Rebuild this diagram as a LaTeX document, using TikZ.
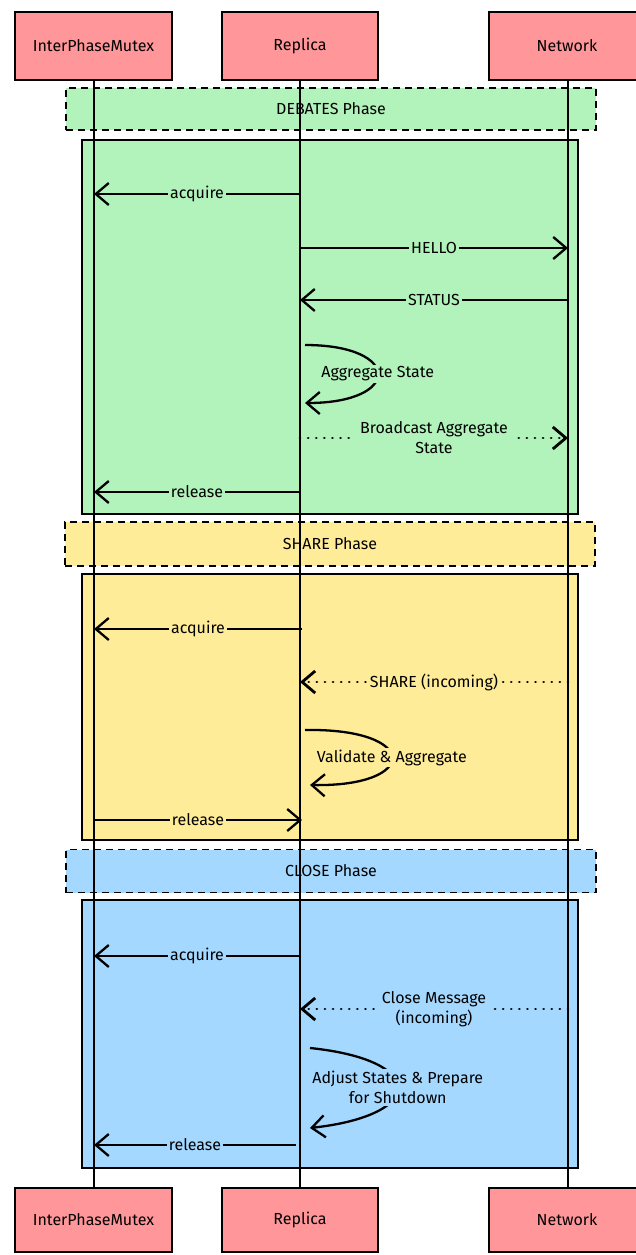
\documentclass[tikz,border=0pt]{standalone}
\usepackage{fontspec}
\setmainfont{Fira Sans}
\usetikzlibrary{arrows.meta}

\definecolor{actorred}{RGB}{255,150,153}
\definecolor{debgreen}{RGB}{178,242,187}
\definecolor{shareyellow}{RGB}{255,236,153}
\definecolor{closeblue}{RGB}{165,216,255}
\newcommand{\seqfont}{\fontsize{16}{20}\selectfont}

\begin{document}
\begin{tikzpicture}[x=1pt,y=-1pt,
	>={Straight Barb[length=13pt,width=22pt]},
	actor/.style={draw,line width=1.8pt,fill=actorred,font=\seqfont,inner sep=0pt},
	phasebar/.style={draw,dashed,dash pattern=on 7pt off 5pt,line width=1.6pt,minimum width=530pt,minimum height=42pt,font=\seqfont},
	groupbox/.style={draw,line width=1.8pt,minimum width=496pt,inner sep=0pt},
	lifeline/.style={line width=1.4pt},
	msg/.style={->,line width=2.3pt},
	dotmsg/.style={->,line width=2.8pt,line cap=round,dash pattern=on 0.1pt off 8pt},
	msglabel/.style={font=\seqfont,inner sep=2pt,align=center}]

	\useasboundingbox (0,0) rectangle (636,1255);
	\fill[white] (0,0) rectangle (636,1255);

	% phases
	\node [name=debPhase,phasebar,fill=debgreen] at (331,109) {DEBATES Phase};
	\node [name=debBox,groupbox,fill=debgreen,minimum height=374pt] at (330,327) {};

	\node [name=sharePhase,phasebar,fill=shareyellow,minimum height=44pt] at (330,544) {SHARE Phase};
	\node [name=shareBox,groupbox,fill=shareyellow,minimum height=266pt] at (330,707) {};

	\node [name=closePhase,phasebar,fill=closeblue,minimum height=43pt] at (331,871) {CLOSE Phase};
	\node [name=closeBox,groupbox,fill=closeblue,minimum height=268pt] at (330,1034) {};

	% actors
	\node [name=mutexTop,actor,minimum width=157pt,minimum height=68pt] at (93.5,46) {InterPhaseMutex};
	\node [name=replicaTop,actor,minimum width=156pt,minimum height=68pt] at (300,46) {Replica};
	\node [name=networkTop,actor,minimum width=156pt,minimum height=68pt] at (567,46) {Network};

	\node [name=mutexBot,actor,minimum width=157pt,minimum height=64pt] at (93.5,1220) {InterPhaseMutex};
	\node [name=replicaBot,actor,minimum width=156pt,minimum height=64pt] at (300,1220) {Replica};
	\node [name=networkBot,actor,minimum width=156pt,minimum height=64pt] at (567,1220) {Network};

	\draw [lifeline] ([xshift=0.5pt]mutexTop.south) -- ([xshift=0.5pt]mutexBot.north);
	\draw [lifeline] (replicaTop) -- (replicaBot);
	\draw [lifeline] ([xshift=1pt]networkTop.south) -- ([xshift=1pt]networkBot.north);

	% message ends
	\coordinate (r1) at (300,194);  \coordinate (m1) at (94,194);
	\coordinate (r2) at (300,248);  \coordinate (n2) at (568,248);
	\coordinate (n3) at (568,300);  \coordinate (r3) at (300,300);
	\coordinate (r4a) at (305,345); \coordinate (r4b) at (305,403);
	\coordinate (r5) at (300,438);  \coordinate (n5) at (568,438);
	\coordinate (r6) at (300,492);  \coordinate (m6) at (94,492);

	\coordinate (r7) at (302,629);  \coordinate (m7) at (94,629);
	\coordinate (n8) at (568,682);  \coordinate (r8) at (300,682);
	\coordinate (r9a) at (305,730); \coordinate (r9b) at (310,785);
	\coordinate (m10) at (94,820);  \coordinate (r10) at (302,820);

	\coordinate (r11) at (300,956); \coordinate (m11) at (94,956);
	\coordinate (n12) at (568,1009); \coordinate (r12) at (300,1009);
	\coordinate (r13a) at (310,1048); \coordinate (r13b) at (310,1128);
	\coordinate (r14) at (296,1145); \coordinate (m14) at (94,1145);

	% DEBATES
	\draw [msg] (r1) -- node[msglabel,fill=debgreen] {acquire} (m1);
	\draw [msg] (r2) -- node[msglabel,fill=debgreen] {HELLO} (n2);
	\draw [msg] (n3) -- node[msglabel,fill=debgreen] {STATUS} (r3);
	\draw [msg] (r4a) .. controls (402,345) and (402,403) .. node[msglabel,fill=debgreen] {Aggregate State} (r4b);
	\draw [dotmsg] (r5) -- node[msglabel,fill=debgreen,inner xsep=5pt] {Broadcast Aggregate\\State} (n5);
	\draw [msg] (r6) -- node[msglabel,fill=debgreen] {release} (m6);

	% SHARE
	\draw [msg] (r7) -- node[msglabel,fill=shareyellow] {acquire} (m7);
	\draw [dotmsg] (n8) -- node[msglabel,fill=shareyellow] {SHARE (incoming)} (r8);
	\draw [msg] (r9a) .. controls (420,728) and (420,787) .. node[msglabel,fill=shareyellow] {Validate \& Aggregate} (r9b);
	\draw [msg] (m10) -- node[msglabel,fill=shareyellow] {release} (r10);

	% CLOSE
	\draw [msg] (r11) -- node[msglabel,fill=closeblue] {acquire} (m11);
	\draw [dotmsg] (n12) -- node[msglabel,fill=closeblue,inner xsep=6pt] {Close Message\\(incoming)} (r12);
	\draw [msg] (r13a) .. controls (427,1060) and (427,1115) .. node[msglabel,fill=closeblue] {Adjust States \& Prepare\\for Shutdown} (r13b);
	\draw [msg] (r14) -- node[msglabel,fill=closeblue] {release} (m14);

\end{tikzpicture}
\end{document}
